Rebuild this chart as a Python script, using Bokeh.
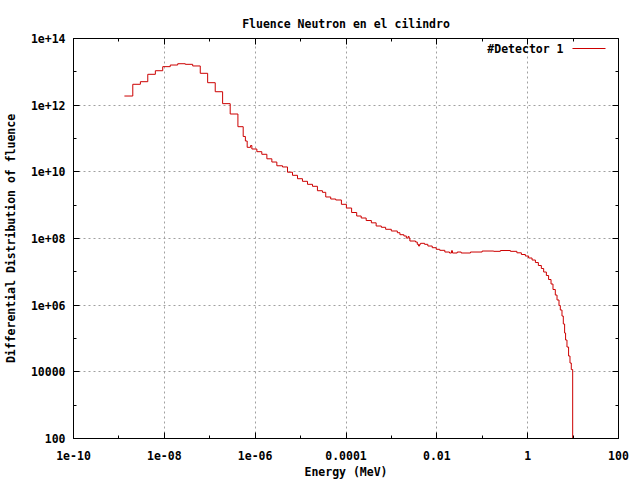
from bokeh.plotting import figure
from bokeh.models import (Range1d, FixedTicker, CustomJSTickFormatter, LogAxis,
                          Label, Arrow, ColumnDataSource)
from bokeh.embed import file_html
from bokeh.resources import INLINE

# ---- data (lower bin edges in MeV, fluence per bin) ----
energy_mev = [
    1.32e-9, 2.02e-9, 2.97e-9, 4.32e-9, 6.34e-9, 9.22e-9, 1.35e-8, 1.97e-8,
    2.89e-8, 4.21e-8, 6.18e-8, 8.99e-8, 1.32e-7, 1.92e-7, 2.82e-7, 4.17e-7,
    5.45e-7, 6.09e-7, 6.67e-7, 7.92e-7, 8.46e-7, 1.09e-6, 1.40e-6, 1.81e-6,
    2.33e-6, 3.00e-6, 4.00e-6, 5.15e-6, 6.64e-6, 8.55e-6, 1.10e-5, 1.42e-5,
    1.83e-5, 2.35e-5, 3.03e-5, 3.58e-5, 4.61e-5, 5.94e-5, 7.92e-5, 1.02e-4,
    1.33e-4, 1.72e-4, 2.16e-4, 2.78e-4, 3.62e-4, 4.61e-4, 6.00e-4, 7.46e-4,
    9.95e-4, 1.35e-3, 1.54e-3, 1.88e-3, 2.13e-3, 2.33e-3, 2.45e-3, 2.55e-3,
    3.40e-3, 3.71e-3, 3.96e-3, 4.17e-3, 4.38e-3, 5.37e-3, 6.34e-3, 7.92e-3,
    9.70e-3, 1.16e-2, 1.50e-2, 1.90e-2, 2.10e-2, 2.21e-2, 2.81e-2, 3.44e-2,
    5.50e-2, 9.95e-2, 0.179, 0.251, 0.417, 0.579, 0.727, 0.890,
    1.05, 1.25, 1.48, 1.72, 2.00, 2.25, 2.58, 2.89,
    3.27, 3.61, 4.06, 4.43, 4.90, 5.23, 5.70, 6.09,
    6.51, 6.84, 7.34, 7.96, 8.55, 9.13, 9.80,
]
fluence = [
    1.88e12, 4.23e12, 5.06e12, 8.43e12, 1.08e13, 1.43e13, 1.60e13, 1.75e13,
    1.68e13, 1.50e13, 9.03e12, 4.72e12, 2.53e12, 1.11e12, 5.43e11, 2.26e11,
    1.15e11, 8.41e10, 5.44e10, 6.16e10, 4.84e10, 4.02e10, 3.36e10, 2.46e10,
    1.97e10, 1.52e10, 1.40e10, 9.74e9, 7.86e9, 6.22e9, 5.19e9, 4.22e9,
    3.68e9, 2.71e9, 2.43e9, 1.76e9, 1.53e9, 1.43e9, 1.06e9, 8.21e8,
    6.02e8, 4.73e8, 4.12e8, 3.46e8, 2.95e8, 2.37e8, 2.17e8, 1.89e8,
    1.68e8, 1.49e8, 1.30e8, 1.19e8, 1.03e8, 1.15e8, 1.03e8, 8.40e7,
    7.84e7, 6.69e7, 5.95e7, 6.69e7, 7.17e7, 6.69e7, 5.95e7, 5.29e7,
    4.74e7, 4.42e7, 3.93e7, 3.67e7, 4.30e7, 3.67e7, 3.93e7, 3.67e7,
    3.93e7, 4.21e7, 4.12e7, 4.36e7, 4.12e7, 3.72e7, 3.31e7, 2.98e7,
    2.60e7, 2.26e7, 1.90e7, 1.55e7, 1.26e7, 9.87e6, 7.75e6, 5.88e6,
    4.31e6, 2.95e6, 2.01e6, 1.43e6, 9.75e5, 7.15e5, 4.72e5, 2.72e5,
    1.46e5, 9.00e4, 5.55e4, 2.98e4, 1.84e4, 1.17e4, 1.0,
]

x_tick_values = [1e-10, 1e-8, 1e-6, 1e-4, 1e-2, 1.0, 100.0]
x_tick_labels = ["1e-10", "1e-08", "1e-06", "0.0001", "0.01", "1", "100"]
x_minor_ticks = [1e-9, 1e-7, 1e-5, 1e-3, 1e-1, 10.0]
y_tick_values = [1e2, 1e4, 1e6, 1e8, 1e10, 1e12, 1e14]
y_tick_labels = ["100", "10000", "1e+06", "1e+08", "1e+10", "1e+12", "1e+14"]
y_minor_ticks = [1e3, 1e5, 1e7, 1e9, 1e11, 1e13]

title_text = "Fluence Neutron en el cilindro"
x_label = "Energy (MeV)"
y_label = "Differential Distribution of fluence"
series_name = "#Detector 1"

FONT = "DejaVu Sans Mono"
FS = "11.5px"
LINE_COLOR = "#cc0000"
GRID_COLOR = "#a0a0a0"


def make_formatter(vals, labels):
    return CustomJSTickFormatter(args=dict(vals=vals, labels=labels), code="""
        for (let i = 0; i < vals.length; i++) {
            if (Math.abs(Math.log10(tick) - Math.log10(vals[i])) < 1e-6) return labels[i];
        }
        return "";
    """)


p = figure(frame_width=545, frame_height=400,
           x_axis_type="log", y_axis_type="log",
           x_range=Range1d(1e-10, 1e2), y_range=Range1d(1e2, 1e14),
           output_backend="svg", toolbar_location=None,
           min_border_left=65, min_border_right=15,
           min_border_top=38, min_border_bottom=34,
           title=title_text)

p.background_fill_color = "white"
p.border_fill_color = "white"
p.outline_line_color = "black"
p.outline_line_width = 1

p.title.text_font = FONT
p.title.text_font_size = FS
p.title.text_font_style = "bold"
p.title.align = "center"
p.title.text_color = "black"
p.title.standoff = 15

xt = FixedTicker(ticks=x_tick_values, minor_ticks=x_minor_ticks)
yt = FixedTicker(ticks=y_tick_values, minor_ticks=y_minor_ticks)

p.xaxis.ticker = xt
p.yaxis.ticker = yt
p.xaxis.formatter = make_formatter(x_tick_values, x_tick_labels)
p.yaxis.formatter = make_formatter(y_tick_values, y_tick_labels)
p.xaxis.axis_label = x_label
p.yaxis.axis_label = y_label

for ax in [p.xaxis[0], p.yaxis[0]]:
    ax.major_tick_in = 6
    ax.major_tick_out = 0
    ax.minor_tick_in = 3
    ax.minor_tick_out = 0
    ax.major_tick_line_color = "black"
    ax.minor_tick_line_color = "black"
    ax.axis_line_color = "black"
    ax.major_label_text_font = FONT
    ax.major_label_text_font_size = FS
    ax.major_label_text_font_style = "bold"
    ax.major_label_text_color = "black"
    ax.axis_label_text_font = FONT
    ax.axis_label_text_font_size = FS
    ax.axis_label_text_font_style = "bold"
    ax.axis_label_text_color = "black"

p.xaxis.major_label_standoff = 12
p.xaxis.axis_label_standoff = 2
p.yaxis.major_label_standoff = 8
p.yaxis.axis_label_standoff = 10

# mirrored ticks on top and right (no labels)
for side, tk in (("above", xt), ("right", yt)):
    ax = LogAxis(ticker=tk, major_label_text_font_size="1px",
                 major_label_text_color=None,
                 major_label_standoff=0, axis_line_color=None,
                 major_tick_in=6, major_tick_out=0,
                 minor_tick_in=3, minor_tick_out=0,
                 major_tick_line_color="black", minor_tick_line_color="black")
    p.add_layout(ax, side)

p.grid.grid_line_color = GRID_COLOR
p.grid.grid_line_dash = "2 3"
p.grid.grid_line_width = 1
p.grid.minor_grid_line_color = None

src = ColumnDataSource(data=dict(energy=energy_mev, fluence=fluence))
p.step(x="energy", y="fluence", source=src, mode="after",
       line_color=LINE_COLOR, line_width=1)

# legend in gnuplot style: text first, then line sample
leg_text = Label(x=490, y=390, x_units="screen", y_units="screen",
                 text=series_name, text_align="right", text_baseline="middle",
                 text_font=FONT, text_font_size=FS, text_font_style="bold",
                 text_color="black")
p.add_layout(leg_text)
leg_line = Arrow(end=None, x_start=499, y_start=390, x_end=532, y_end=390,
                 start_units="screen", end_units="screen",
                 line_color=LINE_COLOR, line_width=1)
p.add_layout(leg_line)

open("out.html", "w").write(file_html(p, INLINE))
